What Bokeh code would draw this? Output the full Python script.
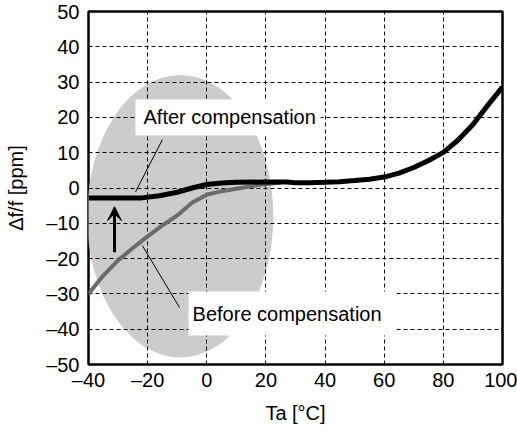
from bokeh.plotting import figure
from bokeh.embed import file_html
from bokeh.resources import INLINE
from bokeh.models import FixedTicker, Arrow, VeeHead, Range1d
from bokeh.core.properties import value

FONT = "Liberation Sans"

# Data
ta_after = [-40, -30, -22, -16, -10, -5, 0, 5, 10, 20, 27, 30, 35, 40, 45, 50, 55, 60, 65, 70, 75, 80, 85, 90, 95, 100]
df_after = [-2.8, -2.8, -2.8, -2.2, -1.2, 0.0, 1.0, 1.4, 1.6, 1.7, 1.7, 1.5, 1.5, 1.6, 1.8, 2.1, 2.5, 3.1, 4.2, 5.8, 7.8, 10.1, 13.6, 18.0, 23.4, 28.6]

ta_before = [-40, -35, -30, -25, -20, -15, -10, -5, 0, 5, 10, 15, 20, 25]
df_before = [-30.0, -24.8, -20.5, -17.0, -13.7, -10.6, -7.8, -4.2, -1.9, -0.9, -0.2, 0.5, 1.1, 1.5]

x_ticks = [-40, -20, 0, 20, 40, 60, 80, 100]
x_tick_labels = ["\u201340", "\u201320", "0", "20", "40", "60", "80", "100"]
y_ticks = [-50, -40, -30, -20, -10, 0, 10, 20, 30, 40, 50]
y_tick_labels = ["\u201350", "\u201340", "\u201330", "\u201320", "\u201310", "0", "10", "20", "30", "40", "50"]

# Annotation geometry (data units)
ELL_X, ELL_Y, ELL_W, ELL_H = -9, -8, 63, 80
AFTER_BOX = (-24.1, 38.5, 14.9, 25.1)
BEFORE_BOX = (-6.2, 64.2, -41.8, -29.3)
AFTER_TEXT = (-21.4, 20.0, "After compensation")
BEFORE_TEXT = (-4.8, -35.6, "Before compensation")
AFTER_LEADER = ([-15.0, -24.1], [13.7, -1.1])
BEFORE_LEADER = ([-21.8, -9.2], [-16.3, -33.9])
ARROW = (-31.2, -18.2, -5.3)

p = figure(frame_width=414, frame_height=353, output_backend="svg", toolbar_location=None,
           x_range=Range1d(-40, 100), y_range=Range1d(-50, 50),
           min_border_left=88, min_border_right=15, min_border_top=11, min_border_bottom=71)
p.background_fill_color = "white"
p.border_fill_color = "white"
p.outline_line_color = "black"
p.outline_line_width = 2.5
p.outline_line_alpha = 1

# ellipse behind everything
ell = p.ellipse(x=[ELL_X], y=[ELL_Y], width=[ELL_W], height=[ELL_H],
                fill_color="#cccccc", line_color=None)
ell.level = "image"

# grids
p.xgrid.ticker = FixedTicker(ticks=[-20, 0, 20, 40, 60, 80])
p.ygrid.ticker = FixedTicker(ticks=[-40, -30, -20, -10, 0, 10, 20, 30, 40])
for g in (p.xgrid, p.ygrid):
    g.grid_line_color = "black"
    g.grid_line_dash = "4 3"
    g.grid_line_width = 1
    g.level = "underlay"

# label boxes
p.quad(left=[AFTER_BOX[0], BEFORE_BOX[0]], right=[AFTER_BOX[1], BEFORE_BOX[1]],
       bottom=[AFTER_BOX[2], BEFORE_BOX[2]], top=[AFTER_BOX[3], BEFORE_BOX[3]],
       fill_color="white", line_color=None)

# curves
p.line(ta_before, df_before, line_color="#6b6b6b", line_width=4)
p.line(ta_after, df_after, line_color="black", line_width=5)

# leader lines
p.line(AFTER_LEADER[0], AFTER_LEADER[1], line_color="black", line_width=1)
p.line(BEFORE_LEADER[0], BEFORE_LEADER[1], line_color="black", line_width=1)

# texts
p.text(x=[AFTER_TEXT[0], BEFORE_TEXT[0]], y=[AFTER_TEXT[1], BEFORE_TEXT[1]],
       text=[AFTER_TEXT[2], BEFORE_TEXT[2]], text_font=value(FONT), text_font_size="20px",
       text_color="black", text_align="left", text_baseline="middle")

# arrow
p.add_layout(Arrow(x_start=ARROW[0], y_start=ARROW[1], x_end=ARROW[0], y_end=ARROW[2],
                   line_color="black", line_width=3,
                   end=VeeHead(size=14, fill_color="black", line_color="black")))

# axes
p.xaxis.ticker = FixedTicker(ticks=x_ticks)
p.yaxis.ticker = FixedTicker(ticks=y_ticks)
p.xaxis.major_label_overrides = dict(zip(x_ticks, x_tick_labels))
p.yaxis.major_label_overrides = dict(zip(y_ticks, y_tick_labels))
p.xaxis.axis_label = "Ta [\u00b0C]"
p.yaxis.axis_label = "\u0394f/f [ppm]"
for ax in (p.xaxis, p.yaxis):
    ax.axis_line_color = None
    ax.major_tick_line_color = None
    ax.minor_tick_line_color = None
    ax.major_tick_out = 0
    ax.major_tick_in = 0
    ax.minor_tick_out = 0
    ax.minor_tick_in = 0
    ax.major_label_text_font = FONT
    ax.major_label_text_font_size = "20px"
    ax.major_label_text_color = "black"
    ax.axis_label_text_font = FONT
    ax.axis_label_text_font_size = "20px"
    ax.axis_label_text_font_style = "normal"
    ax.axis_label_text_color = "black"
p.xaxis.major_label_standoff = 4
p.yaxis.major_label_standoff = 9
p.xaxis.axis_label_standoff = 8
p.yaxis.axis_label_standoff = 16

open("out.html", "w").write(file_html(p, INLINE))
